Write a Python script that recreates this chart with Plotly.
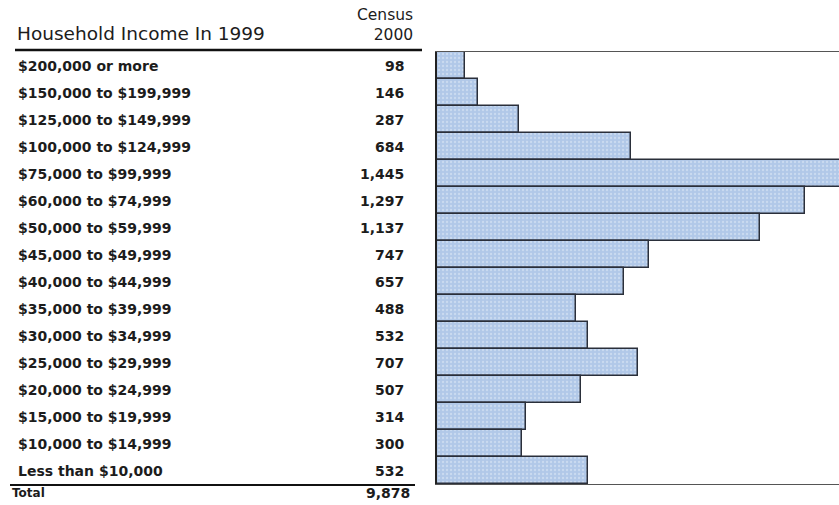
import plotly.graph_objects as go

# Household income brackets (1999) and Census 2000 household counts
categories = [
    "$200,000 or more", "$150,000 to $199,999", "$125,000 to $149,999",
    "$100,000 to $124,999", "$75,000 to $99,999", "$60,000 to $74,999",
    "$50,000 to $59,999", "$45,000 to $49,999", "$40,000 to $44,999",
    "$35,000 to $39,999", "$30,000 to $34,999", "$25,000 to $29,999",
    "$20,000 to $24,999", "$15,000 to $19,999", "$10,000 to $14,999",
    "Less than $10,000",
]
households = [98, 146, 287, 684, 1445, 1297, 1137, 747, 657, 488, 532, 707, 507, 314, 300, 532]
total_label = "Total"
total_value = 9878

W, H = 839, 505
FONT = "DejaVu Sans"
TXT = "#1c1c1c"

def px_x(p):
    return p / W

def px_y(p):
    return 1 - p / H

fig = go.Figure()
fig.add_trace(go.Bar(
    x=households, y=categories, orientation="h",
    marker=dict(
        color="#b1c8e8",
        line=dict(color="#2a2f3a", width=1.5),
        pattern=dict(shape=".", fgcolor="#e4ecf8", size=4, solidity=0.25),
    ),
    hoverinfo="x+y",
))

annotations = []
for cat, val in zip(categories, households):
    annotations.append(dict(
        x=px_x(16), y=cat, xref="paper", yref="y", text=cat, showarrow=False,
        xanchor="left", yanchor="middle",
        font=dict(family=FONT, size=14, color=TXT, weight="bold"),
    ))
    annotations.append(dict(
        x=px_x(406), y=cat, xref="paper", yref="y", text=f"{val:,}", showarrow=False,
        xanchor="right", yanchor="middle",
        font=dict(family=FONT, size=14, color=TXT, weight="bold"),
    ))

# header
annotations.append(dict(
    x=px_x(15), y=px_y(33), xref="paper", yref="paper", text="Household Income In 1999",
    showarrow=False, xanchor="left", yanchor="middle",
    font=dict(family=FONT, size=18.5, color=TXT),
))
annotations.append(dict(
    x=px_x(415), y=px_y(25), xref="paper", yref="paper", text="Census<br>2000",
    showarrow=False, xanchor="right", yanchor="middle", align="right",
    font=dict(family=FONT, size=15.5, color=TXT),
))
# total row
annotations.append(dict(
    x=px_x(10), y=px_y(493), xref="paper", yref="paper", text=total_label,
    showarrow=False, xanchor="left", yanchor="middle",
    font=dict(family=FONT, size=12, color=TXT, weight="bold"),
))
annotations.append(dict(
    x=px_x(412), y=px_y(493), xref="paper", yref="paper", text=f"{total_value:,}",
    showarrow=False, xanchor="right", yanchor="middle",
    font=dict(family=FONT, size=14, color=TXT, weight="bold"),
))

shapes = [
    dict(type="line", xref="paper", yref="paper", x0=px_x(15), x1=px_x(422),
         y0=px_y(50), y1=px_y(50), line=dict(color="#111", width=2.5)),
    dict(type="line", xref="paper", yref="paper", x0=px_x(10), x1=px_x(415),
         y0=px_y(485), y1=px_y(485), line=dict(color="#111", width=2)),
]

fig.update_layout(
    width=W, height=H,
    margin=dict(l=0, r=0, t=0, b=0),
    paper_bgcolor="white", plot_bgcolor="white",
    showlegend=False,
    bargap=0,
    annotations=annotations,
    shapes=shapes,
    xaxis=dict(
        domain=[px_x(437), 1], range=[0, 1415],
        showticklabels=False, ticks="", showgrid=False, zeroline=False,
        showline=True, mirror=True, linecolor="#555", linewidth=1.2,
    ),
    yaxis=dict(
        domain=[px_y(484), px_y(52)], autorange="reversed",
        showticklabels=False, ticks="", showgrid=False, zeroline=False,
        showline=True, linecolor="#222", linewidth=2,
    ),
)

fig.write_html("out.html")
